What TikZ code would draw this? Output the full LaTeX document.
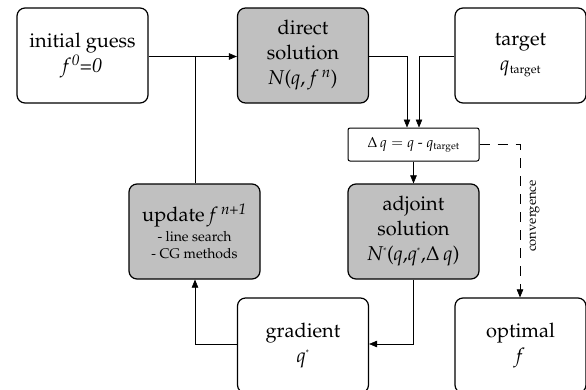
\documentclass[tikz,border=0pt]{standalone}
\usepackage[T1]{fontenc}
\usepackage{mathpazo}
\usetikzlibrary{arrows.meta}
\definecolor{boxgray}{RGB}{192,192,192}
\newcommand{\smst}{\textsuperscript{\fontsize{8}{8}\selectfont *}}
\begin{document}
\begin{tikzpicture}[x=1pt,y=1pt,
  box/.style={draw, line width=1.2pt, rounded corners=8pt, minimum width=131pt, minimum height=95pt, align=center, inner sep=0pt, fill=white, font=\fontsize{20}{25}\selectfont},
  gbox/.style={box, fill=boxgray},
  dqbox/.style={draw, line width=1pt, rounded corners=2pt, minimum width=131pt, minimum height=33pt, inner sep=0pt, fill=white, font=\fontsize{14.5}{17}\selectfont},
  conn/.style={line width=0.6pt, -{Triangle[length=8pt,width=6.5pt]}},
  plain/.style={line width=0.6pt}]
\useasboundingbox (0,0) rectangle (586,-389);
\node[box] (init) at (82.5,-55.5) {initial guess\\ \textit{f\,\textsuperscript{0}=0}};
\node[gbox] (direct) at (303,-55.5) {direct\\ solution\\ \textit{N}(\textit{q}, \textit{f\,\textsuperscript{\,n}})};
\node[box] (target) at (520.5,-55.5) {target\\ $q_{\mbox{\fontsize{12}{14}\selectfont target}}$};
\node[dqbox] (dq) at (413.5,-144.5) {$\Delta\, q = q$ - $q_{\mbox{\fontsize{10}{12}\selectfont target}}$};
\node[gbox] (adj) at (413.5,-231.5) {adjoint\\ solution\\ \textit{N}\smst(\textit{q},\textit{q}\smst,$\Delta\,q$)};
\node[gbox] (upd) at (194.5,-231.5) {update \textit{f\,\textsuperscript{\,n+1}}\\[-5pt]
  {\fontsize{14}{16}\selectfont - line search}\\[-8pt] {\fontsize{14}{16}\selectfont - CG methods}};
\node[box] (grad) at (303,-345.5) {gradient\\ \textit{q}\smst};
\node[box] (opt) at (520.5,-345.5) {optimal\\ \textit{f}};
\coordinate (jn) at (195,-56.5);
\draw[conn] (init.east |- jn) -- (direct.west |- jn);
\draw[plain] (upd.north -| jn) -- (jn);
\draw[conn] (direct.east |- jn) -| ([xshift=-6.5pt]dq.north);
\draw[conn] (target.west |- jn) -| ([xshift=5.5pt]dq.north);
\draw[conn] (dq.south) -- (adj.north);
\draw[conn, dash pattern=on 10pt off 8pt] (dq.east) -| ([xshift=-0.5pt]opt.north);
\node[rotate=90, font=\fontsize{13}{15}\selectfont, anchor=north] (conv) at (526,-216) {convergence};
\coordinate (gy) at (0,-344);
\draw[conn] (adj.south) |- (grad.east |- gy);
\draw[conn] (grad.west |- gy) -| (upd.south -| jn);
\end{tikzpicture}
\end{document}
